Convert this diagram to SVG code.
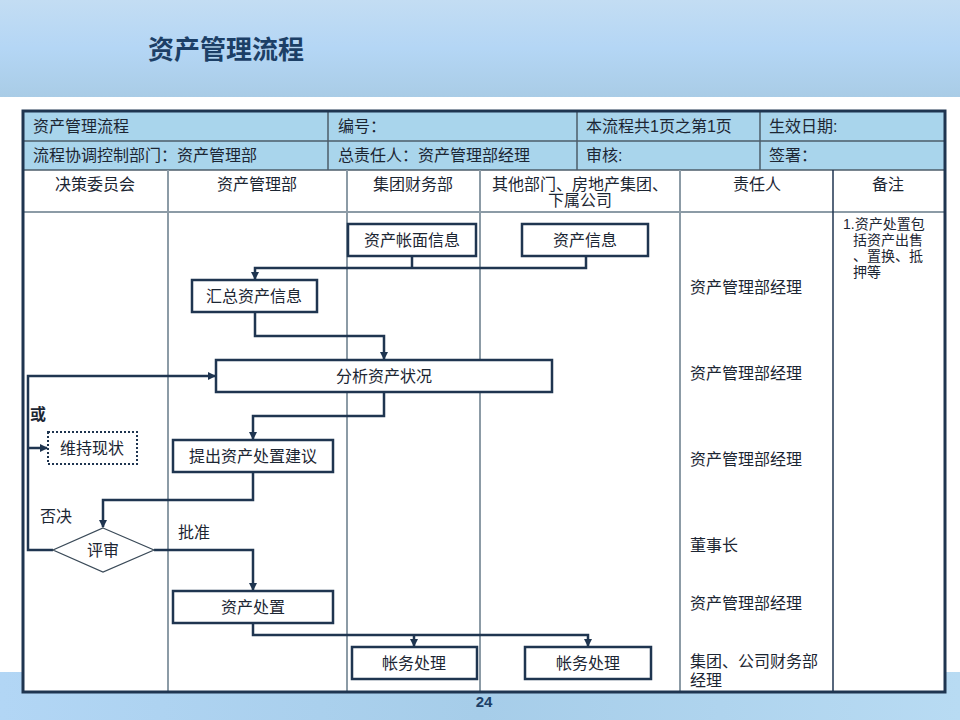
<svg xmlns="http://www.w3.org/2000/svg" width="960" height="720" viewBox="0 0 960 720">
<defs>
  <linearGradient id="bgTop" x1="0" y1="0" x2="0" y2="1">
    <stop offset="0" stop-color="#c3ddf3"/>
    <stop offset="0.5" stop-color="#b4d6f5"/>
    <stop offset="1" stop-color="#a9cce6"/>
  </linearGradient>
  <linearGradient id="bgBot" x1="0" y1="0" x2="1" y2="0">
    <stop offset="0" stop-color="#b2d6f5"/>
    <stop offset="0.5" stop-color="#a6cde9"/>
    <stop offset="1" stop-color="#b8dbf3"/>
  </linearGradient>
  <marker id="arr" markerWidth="8" markerHeight="8" refX="7" refY="4" orient="auto" markerUnits="userSpaceOnUse">
    <path d="M0,0 L8,4 L0,8 Z" fill="#1f3550"/>
  </marker>
  <style>
    .t { font-family: "Liberation Sans", "Noto Sans CJK SC", sans-serif; font-size: 16px; fill: #1c2633; }
    .tc { text-anchor: middle; }
    .note { font-family: "Liberation Sans", "Noto Sans CJK SC", sans-serif; font-size: 14px; fill: #1c2633; }
    .node { fill: #ffffff; stroke: #1f3550; stroke-width: 2.5; }
    .dot { fill: #ffffff; stroke: #1f3550; stroke-width: 2; stroke-dasharray: 2 2; }
    .dia { fill: #ffffff; stroke: #3a4a58; stroke-width: 1.2; }
    .lane { stroke: #8c9ba6; stroke-width: 2; fill: none; }
    .hdr { stroke: #4d5d6a; stroke-width: 1.5; fill: none; }
    .conn { stroke: #1f3550; stroke-width: 2.5; fill: none; }
  </style>
</defs>

<!-- background -->
<rect x="0" y="0" width="960" height="720" fill="#ffffff"/>
<rect x="0" y="0" width="960" height="97" fill="url(#bgTop)"/>
<rect x="0" y="672" width="960" height="48" fill="url(#bgBot)"/>

<!-- title -->
<text x="148" y="59" style="font-family: 'Noto Sans CJK SC', sans-serif; font-size: 26px; font-weight: bold; fill: #1c3f66;">资产管理流程</text>

<!-- table frame -->
<g id="table">
  <rect x="23" y="111" width="922" height="59" fill="#a9d5ec"/>
  <rect x="23" y="170" width="922" height="522" fill="#ffffff"/>
  <line class="hdr" x1="23" y1="141" x2="945" y2="141"/>
  <line class="hdr" x1="23" y1="170" x2="945" y2="170"/>
  <line class="hdr" x1="328" y1="111" x2="328" y2="170"/>
  <line class="hdr" x1="577" y1="111" x2="577" y2="170"/>
  <line class="hdr" x1="760" y1="111" x2="760" y2="170"/>
  <line class="lane" x1="23" y1="212" x2="945" y2="212"/>
  <line class="lane" x1="168" y1="170" x2="168" y2="692"/>
  <line class="lane" x1="347" y1="170" x2="347" y2="692"/>
  <line class="lane" x1="480" y1="170" x2="480" y2="692"/>
  <line class="lane" x1="680" y1="170" x2="680" y2="692"/>
  <line x1="833" y1="170" x2="833" y2="692" stroke="#1f3550" stroke-width="1.5"/>
  <rect x="23" y="111" width="922" height="581" fill="none" stroke="#1f3550" stroke-width="3"/>

  <text class="t" x="33" y="132">资产管理流程</text>
  <text class="t" x="338" y="132">编号：</text>
  <text class="t" x="586" y="132">本流程共1页之第1页</text>
  <text class="t" x="769" y="132">生效日期:</text>
  <text class="t" x="33" y="161">流程协调控制部门：资产管理部</text>
  <text class="t" x="338" y="161">总责任人：资产管理部经理</text>
  <text class="t" x="586" y="161">审核:</text>
  <text class="t" x="769" y="161">签署：</text>

  <text class="t tc" x="95" y="190">决策委员会</text>
  <text class="t tc" x="257" y="190">资产管理部</text>
  <text class="t tc" x="413" y="190">集团财务部</text>
  <text class="t tc" x="580" y="190">其他部门、房地产集团、</text>
  <text class="t tc" x="580" y="206">下属公司</text>
  <text class="t tc" x="757" y="190">责任人</text>
  <text class="t tc" x="888" y="190">备注</text>
</g>

<!-- responsibility & notes -->
<g id="responsible">
  <text class="t" x="690" y="293">资产管理部经理</text>
  <text class="t" x="690" y="379">资产管理部经理</text>
  <text class="t" x="690" y="465">资产管理部经理</text>
  <text class="t" x="690" y="551">董事长</text>
  <text class="t" x="690" y="609">资产管理部经理</text>
  <text class="t" x="690" y="667">集团、公司财务部</text>
  <text class="t" x="690" y="686">经理</text>
</g>
<g id="notes">
  <text class="note" x="843" y="229">1.资产处置包</text>
  <text class="note" x="853" y="245">括资产出售</text>
  <text class="note" x="853" y="261">、置换、抵</text>
  <text class="note" x="853" y="277">押等</text>
</g>

<!-- connectors -->
<g id="connectors">
  <polyline class="conn" points="412,256 412,268"/>
  <polyline class="conn" points="586,256 586,268 255,268 255,279" marker-end="url(#arr)"/>
  <polyline class="conn" points="255,312 255,336 384,336 384,359" marker-end="url(#arr)"/>
  <polyline class="conn" points="384,392 384,416 253,416 253,439" marker-end="url(#arr)"/>
  <polyline class="conn" points="253,472 253,500 103,500 103,527" marker-end="url(#arr)"/>
  <polyline class="conn" points="154,550 253,550 253,590" marker-end="url(#arr)"/>
  <polyline class="conn" points="53,550 28,550 28,376 215,376" marker-end="url(#arr)"/>
  <polyline class="conn" points="28,448 47,448" marker-end="url(#arr)"/>
  <polyline class="conn" points="253,623 253,635 588,635 588,646" marker-end="url(#arr)"/>
  <polyline class="conn" points="414,635 414,646" marker-end="url(#arr)"/>
  <text class="t" x="40" y="522">否决</text>
  <text class="t" x="178" y="538">批准</text>
  <text x="30" y="420" style="font-family: 'Noto Sans CJK SC', sans-serif; font-size: 16px; font-weight: bold; fill: #1c2633;">或</text>
</g>

<!-- nodes -->
<g id="n_zmxx"><rect class="node" x="348" y="224" width="128" height="32"/><text class="t tc" x="412" y="246">资产帐面信息</text></g>
<g id="n_zcxx"><rect class="node" x="522" y="224" width="126" height="32"/><text class="t tc" x="585" y="246">资产信息</text></g>
<g id="n_hz"><rect class="node" x="192" y="280" width="125" height="32"/><text class="t tc" x="254" y="302">汇总资产信息</text></g>
<g id="n_fx"><rect class="node" x="216" y="360" width="336" height="32"/><text class="t tc" x="384" y="382">分析资产状况</text></g>
<g id="n_tc"><rect class="node" x="173" y="440" width="160" height="32"/><text class="t tc" x="253" y="462">提出资产处置建议</text></g>
<g id="n_wc"><rect class="dot" x="48" y="432" width="89" height="32"/><text class="t tc" x="92" y="454">维持现状</text></g>
<g id="n_ps"><polygon class="dia" points="103,528 154,550 103,572 53,550"/><text class="t tc" x="103" y="556">评审</text></g>
<g id="n_cz"><rect class="node" x="173" y="591" width="160" height="32"/><text class="t tc" x="253" y="613">资产处置</text></g>
<g id="n_zw1"><rect class="node" x="352" y="647" width="125" height="32"/><text class="t tc" x="414" y="669">帐务处理</text></g>
<g id="n_zw2"><rect class="node" x="525" y="647" width="126" height="32"/><text class="t tc" x="588" y="669">帐务处理</text></g>

<!-- page number -->
<text x="484" y="707" text-anchor="middle" style="font-family: 'Liberation Sans', sans-serif; font-size: 15px; font-weight: bold; fill: #1c3f66;">24</text>
</svg>
